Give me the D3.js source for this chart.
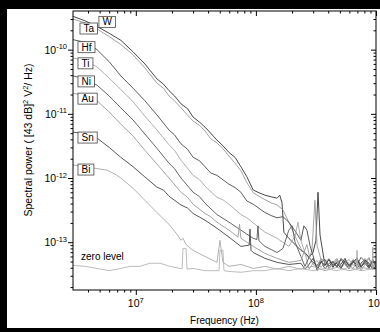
<!DOCTYPE html>
<html>
<head>
<meta charset="utf-8">
<script src="https://cdnjs.cloudflare.com/ajax/libs/d3/7.8.5/d3.min.js"></script>
<style>
body { margin: 0; background: #000; }
svg { display: block; font-family: "Liberation Sans", Arial, sans-serif; }
</style>
</head>
<body>
<script>
// spectra: [frequency (Hz), spectral power]
var W = [[3.0e6,3.3e-10],[3.8e6,2.8e-10],[4.75e6,2.3e-10],[6.0e6,1.8e-10],[7.5e6,1.4e-10],[9.5e6,9.2e-11],
  [1.19e7,6.0e-11],[1.5e7,3.5e-11],[1.7e7,2.9e-11],[1.89e7,2.3e-11],[2.1e7,1.9e-11],[2.38e7,1.43e-11],
  [2.7e7,1.2e-11],[3.0e7,8.9e-12],[3.4e7,7.4e-12],[3.77e7,6.2e-12],[4.2e7,5.0e-12],[4.74e7,3.9e-12],
  [5.3e7,3.2e-12],[5.97e7,2.5e-12],[6.7e7,2.1e-12],[7.5e7,1.5e-12],[8.4e7,1.05e-12],[9.5e7,6.5e-13],
  [1.06e8,5.9e-13],[1.19e8,5.4e-13],[1.34e8,5.1e-13],[1.5e8,4.85e-13],[1.58e8,5.4e-13],[1.65e8,4.1e-13],
  [1.71e8,1.43e-13],[1.88e8,1.15e-13],[2.12e8,9.2e-14],[2.37e8,7.45e-14],[2.56e8,6.9e-14],[2.77e8,5.8e-14],
  [2.99e8,6.9e-14],[3.16e8,1.07e-13],[3.29e8,6.0e-13],[3.42e8,1.29e-13],[3.76e8,4.35e-14],[4.06e8,5.4e-14],
  [4.38e8,4.05e-14],[4.73e8,5.0e-14],[5.11e8,4.5e-14],[5.52e8,5.6e-14],[5.96e8,4.2e-14],[6.43e8,5.2e-14],
  [6.95e8,3.9e-14],[7.5e8,4.7e-14],[8.1e8,5.4e-14],[8.75e8,4.2e-14],[9.4e8,5.0e-14],[1.0e9,4.35e-14]];
var Ta = [[3.0e6,3.0e-10],[3.8e6,2.6e-10],[4.75e6,2.1e-10],[6.0e6,1.6e-10],[7.5e6,1.2e-10],[9.5e6,8.3e-11],
  [1.19e7,5.2e-11],[1.5e7,3.0e-11],[1.7e7,2.5e-11],[1.89e7,1.9e-11],[2.1e7,1.6e-11],[2.38e7,1.24e-11],
  [2.7e7,9.5e-12],[3.0e7,7.7e-12],[3.4e7,6.6e-12],[3.77e7,5.4e-12],[4.2e7,4.1e-12],[4.74e7,3.5e-12],
  [5.3e7,2.9e-12],[5.97e7,2.2e-12],[6.7e7,1.7e-12],[7.5e7,1.3e-12],[8.4e7,8.5e-13],[9.5e7,5.9e-13],
  [1.06e8,5.2e-13],[1.19e8,4.6e-13],[1.34e8,4.1e-13],[1.5e8,3.8e-13],[1.68e8,3.2e-13],[1.88e8,2.05e-13],
  [2.12e8,1.24e-13],[2.37e8,8.0e-14],[2.56e8,6.5e-14],[2.77e8,5.6e-14],[2.93e8,7.45e-14],[3.1e8,4.5e-13],
  [3.23e8,8.9e-14],[3.48e8,5.4e-14],[3.76e8,5.2e-14],[4.06e8,3.9e-14],[4.38e8,4.85e-14],[4.73e8,5.6e-14],
  [5.11e8,4.2e-14],[5.52e8,5.0e-14],[5.96e8,4.7e-14],[6.43e8,3.8e-14],[6.95e8,5.2e-14],[7.5e8,4.35e-14],
  [8.1e8,4.85e-14],[8.75e8,5.8e-14],[9.4e8,4.2e-14],[1.0e9,4.85e-14]];
var Hf = [[3.0e6,1.43e-10],[3.8e6,1.3e-10],[4.75e6,1.0e-10],[6.0e6,6.5e-11],[7.5e6,3.9e-11],[9.5e6,2.5e-11],
  [1.19e7,1.6e-11],[1.5e7,9.6e-12],[1.89e7,5.6e-12],[2.1e7,4.7e-12],[2.38e7,3.4e-12],[2.7e7,2.8e-12],
  [3.0e7,2.1e-12],[3.4e7,1.85e-12],[3.77e7,1.5e-12],[4.2e7,1.2e-12],[4.74e7,1.1e-12],[5.97e7,8.0e-13],
  [6.7e7,7.1e-13],[7.5e7,6.0e-13],[8.4e7,4.4e-13],[9.5e7,3.9e-13],[1.19e8,2.9e-13],[1.34e8,2.6e-13],
  [1.5e8,2.4e-13],[1.68e8,2.5e-13],[1.88e8,2.05e-13],[2.12e8,1.5e-13],[2.37e8,1.07e-13],[2.51e8,1.8e-13],
  [2.66e8,1.54e-13],[2.82e8,8.9e-14],[2.99e8,6.2e-14],[3.23e8,3.6e-14],[3.48e8,4.85e-14],[3.76e8,5.4e-14],
  [4.06e8,4.2e-14],[4.38e8,5.0e-14],[4.73e8,4.05e-14],[5.11e8,5.4e-14],[5.52e8,4.5e-14],[5.96e8,3.9e-14],
  [6.43e8,4.85e-14],[6.95e8,5.6e-14],[7.5e8,4.2e-14],[8.1e8,4.7e-14],[8.75e8,3.9e-14],[9.4e8,5.2e-14],
  [1.0e9,4.05e-14]];
var Ti = [[3.0e6,7.45e-11],[3.8e6,6.7e-11],[4.75e6,5.4e-11],[6.0e6,3.6e-11],[7.5e6,2.4e-11],[9.5e6,1.54e-11],
  [1.19e7,9.2e-12],[1.5e7,5.6e-12],[1.89e7,3.3e-12],[2.1e7,2.7e-12],[2.38e7,1.9e-12],[3.0e7,1.1e-12],
  [3.4e7,9.4e-13],[3.77e7,7.45e-13],[4.74e7,5.0e-13],[5.3e7,4.6e-13],[5.97e7,3.9e-13],[7.5e7,2.7e-13],
  [8.4e7,2.4e-13],[9.5e7,2.0e-13],[1.19e8,1.43e-13],[1.5e8,1.15e-13],[1.88e8,8.6e-14],[2.12e8,1.24e-13],
  [2.24e8,2.05e-13],[2.37e8,1.07e-13],[2.56e8,6.9e-14],[2.77e8,3.8e-14],[2.99e8,4.7e-14],[3.23e8,5.2e-14],
  [3.48e8,4.05e-14],[3.76e8,4.85e-14],[4.06e8,5.6e-14],[4.38e8,4.35e-14],[4.73e8,5.2e-14],[5.11e8,3.9e-14],
  [5.52e8,4.7e-14],[5.96e8,5.4e-14],[6.43e8,4.35e-14],[6.95e8,5.0e-14],[7.5e8,3.9e-14],[8.1e8,5.6e-14],
  [8.75e8,4.5e-14],[9.4e8,3.8e-14],[1.0e9,4.7e-14]];
var Ni = [[3.0e6,3.9e-11],[3.8e6,3.5e-11],[4.75e6,2.8e-11],[6.0e6,1.9e-11],[7.5e6,1.24e-11],[9.5e6,8.0e-12],
  [1.19e7,4.85e-12],[1.5e7,2.9e-12],[1.89e7,1.7e-12],[2.1e7,1.4e-12],[2.38e7,1.0e-12],[3.0e7,6.0e-13],
  [3.4e7,5.1e-13],[3.77e7,4.05e-13],[4.74e7,2.7e-13],[5.97e7,2.05e-13],[7.5e7,1.54e-13],[9.5e7,1.15e-13],
  [1.02e8,1.1e-13],[1.04e8,1.8e-13],[1.06e8,1.05e-13],[1.19e8,8.6e-14],[1.5e8,6.9e-14],[1.68e8,8.0e-14],
  [1.88e8,1.54e-13],[2.0e8,1.8e-13],[2.12e8,1.0e-13],[2.37e8,6.0e-14],[2.56e8,4.2e-14],[2.77e8,5.8e-14],
  [2.99e8,4.85e-14],[3.23e8,4.35e-14],[3.48e8,5.2e-14],[3.76e8,3.8e-14],[4.06e8,4.7e-14],[4.38e8,5.0e-14],
  [4.73e8,4.2e-14],[5.11e8,5.6e-14],[5.52e8,4.85e-14],[5.96e8,3.9e-14],[6.43e8,5.2e-14],[6.95e8,4.35e-14],
  [7.5e8,5.8e-14],[8.1e8,5.0e-14],[8.75e8,4.05e-14],[9.4e8,5.4e-14],[1.0e9,4.5e-14]];
var Au = [[3.0e6,2.1e-11],[3.8e6,1.9e-11],[4.75e6,1.6e-11],[6.0e6,1.07e-11],[7.5e6,6.9e-12],[9.5e6,4.5e-12],
  [1.19e7,2.7e-12],[1.5e7,1.65e-12],[1.89e7,1.0e-12],[2.38e7,6.0e-13],[2.7e7,5.0e-13],[3.0e7,3.9e-13],
  [3.77e7,2.8e-13],[4.2e7,2.5e-13],[4.74e7,2.05e-13],[5.97e7,1.54e-13],[7.1e7,1.2e-13],[7.3e7,1.9e-13],
  [7.5e7,1.15e-13],[9.5e7,8.6e-14],[1.19e8,6.7e-14],[1.5e8,5.6e-14],[1.88e8,4.85e-14],[2.37e8,5.2e-14],
  [2.66e8,9.2e-14],[2.82e8,5.6e-14],[2.99e8,4.5e-14],[3.23e8,4.2e-14],[3.48e8,5.6e-14],[3.76e8,4.85e-14],
  [4.06e8,3.9e-14],[4.38e8,4.5e-14],[4.73e8,5.4e-14],[5.11e8,4.05e-14],[5.52e8,5.0e-14],[5.96e8,4.2e-14],
  [6.43e8,5.4e-14],[6.95e8,4.85e-14],[7.5e8,3.6e-14],[8.1e8,4.5e-14],[8.75e8,5.6e-14],[9.4e8,3.9e-14],
  [1.0e9,5.0e-14]];
var Sn = [[3.0e6,5.2e-12],[3.8e6,4.85e-12],[4.75e6,4.2e-12],[6.0e6,3.0e-12],[7.5e6,2.1e-12],[9.5e6,1.5e-12],
  [1.19e7,1.04e-12],[1.5e7,7.2e-13],[1.7e7,6.5e-13],[1.89e7,5.2e-13],[2.38e7,3.8e-13],[2.7e7,3.4e-13],
  [3.0e7,2.8e-13],[3.77e7,2.2e-13],[4.74e7,1.65e-13],[5.97e7,1.2e-13],[7.5e7,8.6e-14],[8.8e7,9.0e-14],
  [8.93e7,1.6e-13],[9.1e7,7.5e-14],[9.5e7,6.9e-14],[1.19e8,5.6e-14],[1.5e8,4.85e-14],[1.88e8,4.5e-14],
  [2.37e8,4.7e-14],[2.56e8,3.8e-14],[2.77e8,4.5e-14],[2.99e8,5.6e-14],[3.23e8,3.9e-14],[3.48e8,5.0e-14],
  [3.76e8,4.35e-14],[4.06e8,5.4e-14],[4.38e8,4.35e-14],[4.73e8,4.7e-14],[5.11e8,3.9e-14],[5.52e8,5.2e-14],
  [5.96e8,4.35e-14],[6.43e8,4.85e-14],[6.95e8,5.6e-14],[7.5e8,4.05e-14],[8.1e8,5.2e-14],[8.75e8,4.7e-14],
  [9.4e8,3.8e-14],[1.0e9,4.2e-14]];
var Bi = [[3.0e6,1.6e-12],[3.8e6,1.5e-12],[4.75e6,1.4e-12],[5.75e6,1.33e-12],[6.7e6,1.15e-12],[7.5e6,1.0e-12],
  [9.5e6,6.9e-13],[1.19e7,4.5e-13],[1.5e7,2.9e-13],[1.89e7,1.9e-13],[2.2e7,1.33e-13],[2.38e7,1.07e-13],
  [2.47e7,1.15e-13],[2.62e7,9.2e-14],[3.0e7,7.45e-14],[3.77e7,6.0e-14],[4.74e7,4.85e-14],[5.02e7,1.07e-13],
  [5.32e7,4.85e-14],[5.97e7,4.2e-14],[7.5e7,4.5e-14],[9.5e7,3.9e-14],[1.19e8,4.2e-14],[1.5e8,3.8e-14],
  [1.88e8,4.2e-14],[2.37e8,3.8e-14],[2.99e8,4.2e-14],[3.76e8,3.6e-14],[4.73e8,4.05e-14],[5.96e8,3.6e-14],
  [6.9e8,3.8e-14],[6.95e8,7.45e-14],[7.0e8,3.8e-14],[7.5e8,4.05e-14],[9.3e8,3.8e-14],[9.4e8,8.4e-14],
  [9.5e8,3.8e-14],[1.0e9,3.8e-14]];
var zeroLevel = [[3.0e6,4.35e-14],[3.8e6,4.2e-14],[4.75e6,3.9e-14],[6.0e6,3.6e-14],[7.5e6,3.9e-14],
  [8.95e6,4.2e-14],[1.08e7,4.2e-14],[1.31e7,4.7e-14],[1.59e7,4.7e-14],[1.93e7,4.2e-14],[2.33e7,3.9e-14],
  [2.43e7,3.9e-14],[2.47e7,8.0e-14],[2.62e7,8.0e-14],[2.67e7,3.8e-14],[3.0e7,3.9e-14],[3.77e7,3.6e-14],
  [4.93e7,3.6e-14],[5.02e7,7.45e-14],[5.32e7,7.45e-14],[5.42e7,3.6e-14],[5.97e7,3.5e-14],[7.5e7,3.4e-14],
  [9.5e7,3.6e-14],[1.19e8,3.6e-14],[1.5e8,3.9e-14],[1.88e8,3.6e-14],[2.37e8,3.9e-14],[2.99e8,3.6e-14],
  [3.76e8,3.9e-14],[4.73e8,3.6e-14],[5.96e8,4.05e-14],[7.5e8,3.6e-14],[1.0e9,3.9e-14]];

var seriesNames = ["W", "Ta", "Hf", "Ti", "Ni", "Au", "Sn", "Bi", "zero level"];
var seriesData = [W, Ta, Hf, Ti, Ni, Au, Sn, Bi, zeroLevel];
// where each name tag sits (top-left corner, in data units)
var labelAt = [[4.93e6,3.3e-10],[3.43e6,2.6e-10],[3.3e6,1.33e-10],[3.3e6,7.45e-11],[3.3e6,3.9e-11],
  [3.3e6,2.1e-11],[3.3e6,5.2e-12],[3.3e6,1.65e-12],[3.5e6,5.2e-14]];

var xTicks = [1e7, 1e8, 1e9], xTickExp = ["7", "8", "9"];
var yTicks = [1e-10, 1e-11, 1e-12, 1e-13], yTickExp = ["-10", "-11", "-12", "-13"];

var width = 380, height = 332;
var plot = {left: 73, right: 376, top: 11, bottom: 290};

var svg = d3.select("body").append("svg")
    .attr("width", width)
    .attr("height", height);

svg.append("rect").attr("width", width).attr("height", height).style("fill", "#000");
svg.append("rect").attr("x", 7).attr("y", 9).attr("width", width - 7).attr("height", 319).style("fill", "#fff");

var x = d3.scaleLog().domain([3e6, 1e9]).range([plot.left, plot.right]);
var y = d3.scaleLog().domain([1.8e-14, 4e-10]).range([plot.bottom, plot.top]);

function minors(lo, hi, d0, d1) {
  var out = [];
  for (var d = d0; d <= d1; d++)
    for (var m = 2; m <= 9; m++) {
      var v = m * Math.pow(10, d);
      if (v > lo && v < hi) out.push(v);
    }
  return out;
}
var xMinor = minors(3e6, 1e9, 6, 8);
var yMinor = minors(1.8e-14, 4e-10, -14, -10);

svg.append("defs").append("clipPath").attr("id", "plot")
  .append("rect").attr("x", plot.left).attr("y", plot.top)
    .attr("width", plot.right - plot.left).attr("height", plot.bottom - plot.top);

// curves
var line = d3.line().x(function(d) { return x(d[0]); }).y(function(d) { return y(d[1]); });
var tones = ["#333", "#999", "#4a4a4a", "#a6a6a6", "#555", "#9a9a9a", "#444", "#a8a8a8", "#b4b4b4"];

svg.append("g").attr("clip-path", "url(#plot)")
  .selectAll("path")
    .data(seriesData)
  .enter().append("path")
    .attr("d", line)
    .style("fill", "none")
    .style("stroke", function(d, i) { return tones[i]; })
    .style("stroke-width", 0.9);

// axes: ticks out on bottom/left, in on top/right
function drawAxis(axisFn, scale, ticks, size, tx, ty) {
  var g = svg.append("g")
      .attr("transform", "translate(" + tx + "," + ty + ")")
      .call(axisFn(scale).tickValues(ticks).tickSize(size).tickFormat(""));
  g.select(".domain").remove();
  g.selectAll("line").style("stroke", "#000");
}
drawAxis(d3.axisBottom, x, xMinor, 2.5, 0, plot.bottom);
drawAxis(d3.axisBottom, x, xTicks, 5, 0, plot.bottom);
drawAxis(d3.axisBottom, x, xMinor, 2.5, 0, plot.top);
drawAxis(d3.axisBottom, x, xTicks, 5, 0, plot.top);
drawAxis(d3.axisLeft, y, yMinor, 2.5, plot.left, 0);
drawAxis(d3.axisLeft, y, yTicks, 5, plot.left, 0);
drawAxis(d3.axisLeft, y, yMinor, 2.5, plot.right, 0);
drawAxis(d3.axisLeft, y, yTicks, 5, plot.right, 0);

svg.append("rect")
    .attr("x", plot.left).attr("y", plot.top)
    .attr("width", plot.right - plot.left).attr("height", plot.bottom - plot.top)
    .style("fill", "none").style("stroke", "#000").style("stroke-width", 1);

// tick labels like 10^7
var xl = svg.selectAll(".xl").data(xTicks).enter().append("text")
    .attr("x", function(d) { return x(d); })
    .attr("y", plot.bottom + 17)
    .attr("text-anchor", "middle")
    .style("font-size", "10.5px");
xl.append("tspan").text("10");
xl.append("tspan").attr("dy", -4.5).style("font-size", "7.5px").text(function(d, i) { return xTickExp[i]; });

var yl = svg.selectAll(".yl").data(yTicks).enter().append("text")
    .attr("x", plot.left - 6)
    .attr("y", function(d) { return y(d) + 4; })
    .attr("text-anchor", "end")
    .style("font-size", "10.5px");
yl.append("tspan").text("10");
yl.append("tspan").attr("dy", -4.5).style("font-size", "7.5px").text(function(d, i) { return yTickExp[i]; });

svg.append("text")
    .attr("x", (plot.left + plot.right) / 2)
    .attr("y", 324)
    .attr("text-anchor", "middle")
    .style("font-size", "10px")
    .text("Frequency (Hz)");

var yt = svg.append("text")
    .attr("transform", "translate(32,140) rotate(-90)")
    .attr("text-anchor", "middle")
    .style("font-size", "10.5px");
yt.append("tspan").text("Spectral power ( [43 dB]");
yt.append("tspan").attr("dy", -4).style("font-size", "7.5px").text("2");
yt.append("tspan").attr("dy", 4).text(" V");
yt.append("tspan").attr("dy", -4).style("font-size", "7.5px").text("2");
yt.append("tspan").attr("dy", 4).text("/ Hz)");

// name tags
seriesNames.forEach(function(name, i) {
  var px = x(labelAt[i][0]), py = y(labelAt[i][1]);
  if (name === "zero level") {
    svg.append("text").attr("x", px).attr("y", py).style("font-size", "10px").text(name);
    return;
  }
  var g = svg.append("g").attr("transform", "translate(" + px + "," + py + ")");
  var box = g.append("rect").attr("height", 11).style("fill", "#fff").style("stroke", "#444").style("stroke-width", 0.8);
  var t = g.append("text").attr("x", 3.5).attr("y", 9).style("font-size", "10px").text(name);
  box.attr("width", t.node().getComputedTextLength() + 7);
});
</script>
</body>
</html>
